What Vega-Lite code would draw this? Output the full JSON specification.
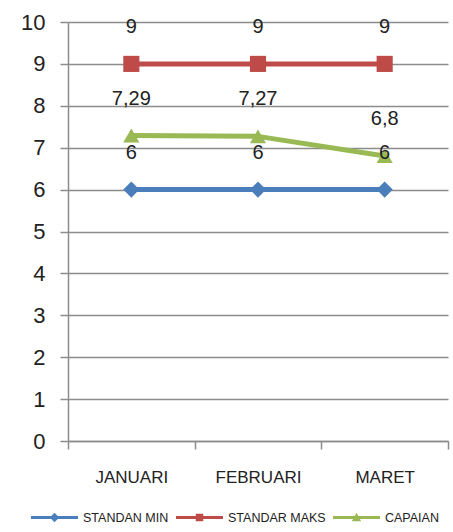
{
  "$schema": "https://vega.github.io/schema/vega-lite/v6.json",
  "width": 380,
  "height": 419,
  "autosize": "none",
  "padding": {"left": 68, "top": 22, "right": 5, "bottom": 91},
  "background": "white",
  "config": {
    "view": {"stroke": null},
    "font": "Liberation Sans"
  },
  "data": {
    "values": [
      {"bulan": "JANUARI", "seri": "STANDAN MIN", "nilai": 6, "label": "6"},
      {"bulan": "FEBRUARI", "seri": "STANDAN MIN", "nilai": 6, "label": "6"},
      {"bulan": "MARET", "seri": "STANDAN MIN", "nilai": 6, "label": "6"},
      {"bulan": "JANUARI", "seri": "STANDAR MAKS", "nilai": 9, "label": "9"},
      {"bulan": "FEBRUARI", "seri": "STANDAR MAKS", "nilai": 9, "label": "9"},
      {"bulan": "MARET", "seri": "STANDAR MAKS", "nilai": 9, "label": "9"},
      {"bulan": "JANUARI", "seri": "CAPAIAN", "nilai": 7.29, "label": "7,29"},
      {"bulan": "FEBRUARI", "seri": "CAPAIAN", "nilai": 7.27, "label": "7,27"},
      {"bulan": "MARET", "seri": "CAPAIAN", "nilai": 6.8, "label": "6,8"}
    ]
  },
  "encoding": {
    "x": {
      "field": "bulan", "type": "nominal",
      "scale": {"domain": ["JANUARI", "FEBRUARI", "MARET"], "paddingInner": 0, "paddingOuter": 0},
      "axis": {"title": null, "labelAngle": 0, "labelFontSize": 17, "labelColor": "#222", "labelPadding": 20,
               "tickBand": "extent", "tickSize": 8, "tickColor": "#8c8c8c", "domainColor": "#8c8c8c", "domainWidth": 1.5, "tickWidth": 1.5}
    },
    "y": {
      "field": "nilai", "type": "quantitative",
      "scale": {"domain": [0, 10], "nice": false, "zero": true},
      "axis": {"title": null, "values": [0,1,2,3,4,5,6,7,8,9,10], "labelFontSize": 22, "labelColor": "#222",
               "tickSize": 8, "labelPadding": 15, "tickColor": "#8c8c8c", "domainColor": "#8c8c8c",
               "gridColor": "#8c8c8c", "gridWidth": 1.5, "domainWidth": 1.5, "tickWidth": 1.5}
    }
  },
  "layer": [
    {
      "mark": {"type": "line", "strokeWidth": 5},
      "encoding": {
        "color": {
          "field": "seri", "type": "nominal",
          "scale": {"domain": ["STANDAN MIN", "STANDAR MAKS", "CAPAIAN"], "range": ["#4A7EBB", "#BE4B48", "#98B954"]},
          "legend": {
            "title": null, "orient": "none", "direction": "horizontal", "legendX": -37, "legendY": 472,
            "symbolSize": 2209, "labelFontSize": 12.5, "labelColor": "#222", "labelOffset": 5, "columnPadding": 7,
            "symbolStrokeWidth": 0, "labelLimit": 200,
            "encode": {
              "symbols": {
                "update": {
                  "shape": {"signal": "datum.value == 'STANDAN MIN' ? 'M-1,-0.06L1,-0.06L1,0.06L-1,0.06Z M0,-0.2L0.2,0L0,0.2L-0.2,0Z' : (datum.value == 'STANDAR MAKS' ? 'M-1,-0.06L1,-0.06L1,0.06L-1,0.06Z M-0.16,-0.16L0.16,-0.16L0.16,0.16L-0.16,0.16Z' : 'M-1,-0.06L1,-0.06L1,0.06L-1,0.06Z M0,-0.2L0.2,0.16L-0.2,0.16Z')"},
                  "fill": {"signal": "scale('color', datum.value)"},
                  "fillOpacity": {"value": 1},
                  "strokeWidth": {"value": 0}
                }
              }
            }
          }
        }
      }
    },
    {
      "transform": [{"filter": "datum.seri == 'STANDAN MIN'"}],
      "mark": {"type": "point", "filled": true, "opacity": 1, "size": 260, "shape": "diamond"},
      "encoding": {"color": {"field": "seri", "type": "nominal", "legend": null}}
    },
    {
      "transform": [{"filter": "datum.seri == 'STANDAR MAKS'"}],
      "mark": {"type": "point", "filled": true, "opacity": 1, "size": 260, "shape": "square"},
      "encoding": {"color": {"field": "seri", "type": "nominal", "legend": null}}
    },
    {
      "transform": [{"filter": "datum.seri == 'CAPAIAN'"}],
      "mark": {"type": "point", "filled": true, "opacity": 1, "size": 260, "shape": "triangle-up"},
      "encoding": {"color": {"field": "seri", "type": "nominal", "legend": null}}
    },
    {
      "mark": {"type": "text", "dy": -37, "fontSize": 20, "color": "#222", "baseline": "middle"},
      "encoding": {"text": {"field": "label"}}
    }
  ]
}
